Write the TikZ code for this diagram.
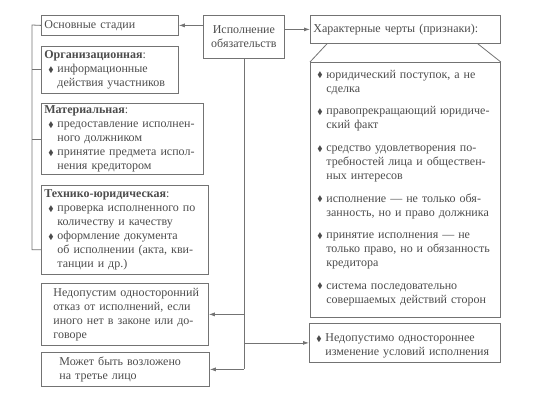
\documentclass[tikz,border=0pt]{standalone}
\usepackage{fontspec}
\setmainfont{Liberation Serif}
\usepackage{amssymb}
\usetikzlibrary{arrows.meta}

\definecolor{linegray}{gray}{0.45}
\definecolor{textgray}{gray}{0.3}

\newcommand{\bul}{\raisebox{0.5pt}{$\scriptstyle\blacklozenge$}}
\newcommand{\br}{\hfil\break}
\newcommand{\itm}{\par\hangindent=13pt\hangafter=1\noindent\makebox[13pt][l]{\hspace{4pt}\bul}}
\newcommand{\itmb}{\par\vspace{8.6pt}\itm}
\newcommand{\ind}[1]{\noindent\hspace*{9pt}\begin{tabular}[t]{@{}l@{}}#1\end{tabular}}

\tikzset{
  box/.style={draw=linegray, line width=0.8pt, anchor=north west, inner xsep=3pt, inner ysep=2pt,
    text=textgray, font=\fontsize{12}{14}\selectfont},
  link/.style={draw=linegray, line width=0.8pt},
  >={Latex[length=6pt,width=4pt]}
}

\begin{document}
\begin{tikzpicture}[x=1pt, y=-1pt]

\useasboundingbox (0,0) rectangle (544,412);

% centre
\node[box, align=center, text width=75pt, minimum height=43pt] (isp) at (203,15) {Исполнение\\обязательств};

% left column
\node[box, text width=131pt, minimum height=20pt] (stages) at (41,15) {Основные стадии};
\node[box, text width=131pt, minimum height=47pt] (org) at (41,46)
  {\textbf{Организационная}:\itm информационные\br действия участников\par};
\node[box, text width=156pt, minimum height=71pt] (mat) at (41,103)
  {\textbf{Материальная}:\itm предоставление исполнен-\br ного должником\itm принятие предмета испол-\br нения кредитором\par};
\node[box, text width=161pt, minimum height=89pt] (tech) at (41,185)
  {\textbf{Технико-юридическая}:\itm проверка исполненного по\br количеству и качеству\itm оформление документа\br об исполнении (акта, кви-\br танции и др.)\par};
\node[box, text width=161pt, minimum height=62pt] (refuse) at (41,283)
  {\ind{Недопустим односторонний\\отказ от исполнений, если\\иного нет в законе или до-\\говоре}};
\node[box, text width=162pt, minimum height=34pt] (third) at (41,352)
  {\kern6pt\ind{Может быть возложено\\на третье лицо}};

% right column
\node[box, text width=184pt, minimum height=28pt] (feat) at (310,15) {Характерные черты (признаки):};
\node[box, text width=184pt, minimum height=244pt] (list) at (310,62)
  {\itm юридический поступок, а не\br сделка
   \itmb правопрекращающий юридиче-\br ский факт
   \itmb средство удовлетворения по-\br требностей лица и обществен-\br ных интересов
   \itmb исполнение --- не только обя-\br занность, но и право должника
   \itmb принятие исполнения --- не\br только право, но и обязанность\br кредитора
   \itmb система последовательно\br совершаемых действий сторон\par\kern9pt};
\node[box, text width=185pt, minimum height=39pt] (change) at (309,323)
  {\itm Недопустимо одностороннее\br изменение условий исполнения\par};

% connectors
\draw[link,->] (isp.west |- stages.east) -- (stages.east);
\draw[link,->] (isp.east |- feat.west) -- (feat.west);

\coordinate (brk) at (32,25);
\draw[link] (stages.west) -- (brk) |- ([yshift=25pt]tech.south west);
\draw[link] (brk |- org.west) -- (org.west);
\draw[link] (brk |- mat.west) -- (mat.west);

\coordinate (trunk) at (isp.south |- third.east);
\draw[link] (isp.south) -- (trunk);
\draw[link,->] (trunk) -- (third.east);
\draw[link,->] (isp.south |- refuse.east) -- (refuse.east);
\draw[link,->] (isp.south |- change.west) -- (change.west);

\draw[link] ([xshift=17pt]feat.south west) -- (list.north west);
\draw[link] ([xshift=-23pt]feat.south east) -- (list.north east);

\end{tikzpicture}
\end{document}
